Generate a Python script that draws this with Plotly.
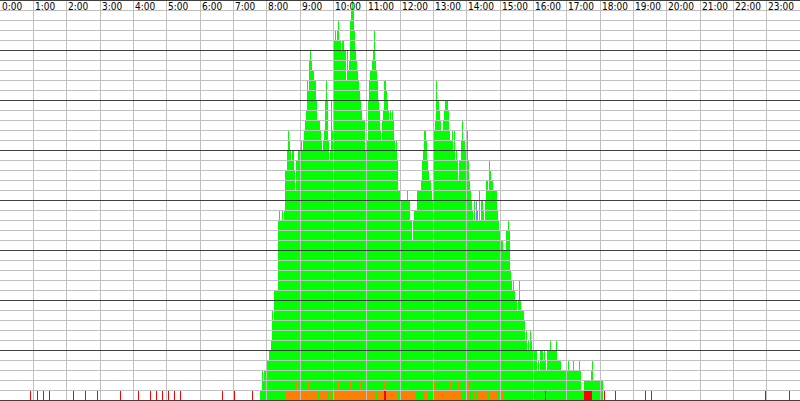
import plotly.graph_objects as go

# ---------------- data (one bucket = one 1.8-minute time slot) ----------------
BUCKET_MIN = 1.8
FIRST_BUCKET = 252

# total events per bucket (stack height), buckets 252..616
total = [
    1, 0, 0, 0, 0, 0, 0, 0,
    1, 1, 3, 2, 3, 3, 3, 4, 4, 5, 5, 6, 9, 8, 11, 11, 11, 11, 18, 19,
    18, 18, 19, 18, 19, 23, 23, 25, 27, 26, 25, 24, 25, 25, 23, 21, 24, 24, 25, 25,
    25, 26, 25, 26, 27, 28, 29, 32, 31, 34, 35, 34, 33, 33, 32, 32, 30, 28, 28, 28,
    27, 26, 25, 26, 27, 30, 32, 30, 26, 24, 25, 30, 27, 28, 36, 37, 36, 37, 38, 36,
    36, 35, 36, 36, 35, 35, 32, 35, 33, 34, 38, 39, 40, 39, 37, 35, 34, 33, 32, 31,
    30, 29, 28, 28, 28, 25, 25, 26, 30, 32, 33, 33, 34, 35, 37, 34, 33, 32, 30, 29,
    27, 26, 28, 29, 32, 32, 31, 30, 29, 28, 29, 28, 29, 28, 26, 25, 26, 24, 21, 21,
    20, 20, 20, 20, 20, 20, 20, 21, 20, 20, 18, 18, 16, 18, 19, 19, 19, 21, 21, 21,
    21, 22, 24, 25, 27, 27, 26, 24, 23, 22, 22, 21, 20, 27, 27, 28, 32, 30, 30, 29,
    28, 27, 27, 28, 29, 30, 30, 30, 29, 27, 26, 26, 27, 25, 27, 24, 25, 24, 22, 24,
    24, 26, 28, 26, 26, 25, 24, 27, 24, 22, 21, 20, 19, 18, 20, 18, 20, 19, 18, 21,
    18, 20, 20, 19, 18, 20, 22, 22, 21, 24, 23, 22, 22, 21, 21, 21, 21, 19, 18, 17,
    16, 16, 16, 15, 15, 15, 17, 17, 18, 17, 13, 12, 11, 12, 11, 10, 10, 9, 10, 12,
    10, 9, 9, 9, 8, 6, 7, 5, 6, 5, 7, 6, 5, 6, 5, 5, 5, 3, 4, 3,
    5, 5, 5, 4, 5, 4, 3, 5, 5, 5, 6, 5, 5, 5, 5, 5, 6, 4, 4, 4,
    4, 3, 3, 3, 3, 3, 3, 3, 4, 3, 3, 3, 3, 4, 3, 3, 3, 3, 3, 4,
    3, 1, 1, 1, 2, 2, 2, 2, 2, 2, 2, 3, 4, 2, 2, 2, 2, 2, 2, 2,
    2, 2, 2, 0, 1, 0, 0, 0, 0, 0, 0, 0, 0, 0, 0, 1, 0,
]

# warnings per bucket, buckets 252..616
warn = [
    0, 0, 0, 0, 0, 0, 0, 0,
    0, 0, 0, 0, 0, 0, 0, 0, 0, 0, 0, 0, 0, 0, 0, 0, 0, 0, 0, 0,
    0, 0, 0, 0, 0, 1, 1, 1, 1, 1, 1, 1, 1, 2, 1, 1, 2, 1, 1, 1,
    1, 2, 1, 2, 1, 1, 1, 1, 2, 1, 1, 2, 1, 1, 1, 1, 1, 1, 0, 1,
    1, 1, 1, 1, 1, 1, 1, 0, 0, 1, 1, 1, 0, 1, 1, 2, 1, 2, 2, 1,
    1, 1, 1, 1, 1, 1, 1, 0, 1, 2, 2, 2, 1, 1, 1, 1, 1, 0, 1, 1,
    2, 1, 1, 1, 1, 0, 0, 1, 1, 1, 1, 1, 1, 1, 1, 0, 0, 1, 1, 1,
    1, 1, 1, 1, 1, 1, 1, 1, 1, 1, 1, 1, 1, 1, 1, 1, 1, 1, 0, 0,
    1, 1, 1, 0, 1, 1, 1, 1, 1, 1, 1, 1, 1, 1, 1, 1, 0, 0, 0, 0,
    0, 0, 0, 1, 1, 1, 1, 0, 0, 0, 0, 0, 0, 0, 2, 2, 1, 1, 1, 1,
    1, 1, 1, 1, 1, 1, 1, 1, 1, 1, 2, 2, 1, 1, 1, 1, 1, 1, 2, 2,
    1, 1, 0, 0, 0, 0, 0, 0, 2, 1, 0, 0, 0, 0, 1, 1, 0, 0, 1, 1,
    1, 0, 1, 1, 1, 0, 1, 1, 0, 0, 1, 1, 1, 1, 1, 1, 1, 0, 0, 0,
    0, 1, 1, 1, 0, 0, 0, 0, 0, 0, 0, 0, 0, 0, 0, 0, 0, 0, 0, 0,
] + [0] * 97

# buckets holding one error each
err_buckets = [30, 37, 43, 49, 73, 85, 97, 120, 138, 150, 156, 162, 168, 174, 180,
               222, 234, 252, 384, 385, 545, 584, 585, 586, 587, 588, 589, 590, 591,
               604, 615, 645, 651, 765, 789]

# informational events (drawn on top of the stack)
info_buckets = [476, 477, 493]
info_counts = [2, 1, 1]

hour_labels = ["0:00", "1:00", "2:00", "3:00", "4:00", "5:00", "6:00", "7:00",
               "8:00", "9:00", "10:00", "11:00", "12:00", "13:00", "14:00", "15:00",
               "16:00", "17:00", "18:00", "19:00", "20:00", "21:00", "22:00", "23:00"]

# ---------------- figure ----------------
GREEN, ORANGE, RED, BLUE = "#00ff00", "#ff8000", "#ff0000", "#8080ff"
LIGHT, DARK = "#c0c0c0", "#404040"

buckets = [FIRST_BUCKET + i for i in range(len(total))]
xs = [(b + 0.5) * BUCKET_MIN for b in buckets]
err_set = set(err_buckets)

fig = go.Figure()
fig.add_trace(go.Bar(x=xs, y=total, width=BUCKET_MIN, marker=dict(color=GREEN, line=dict(width=0)),
                     hoverinfo="skip"))
fig.add_trace(go.Bar(x=xs, y=warn, base=[1 if b in err_set else 0 for b in buckets],
                     width=BUCKET_MIN, marker=dict(color=ORANGE, line=dict(width=0)), hoverinfo="skip"))
fig.add_trace(go.Bar(x=[(b + 0.5) * BUCKET_MIN for b in err_buckets], y=[1] * len(err_buckets),
                     width=BUCKET_MIN, marker=dict(color=RED, line=dict(width=0)), hoverinfo="skip"))
tot_map = dict(zip(buckets, total))
fig.add_trace(go.Bar(x=[(b + 0.5) * BUCKET_MIN for b in info_buckets], y=info_counts,
                     base=[tot_map[b] - c for b, c in zip(info_buckets, info_counts)],
                     width=BUCKET_MIN, marker=dict(color=BLUE, line=dict(width=0)), hoverinfo="skip"))

W, H = 800, 401
px_min = 1440 / W
shapes = []
for h in range(1, 24):
    p = int(W * h / 24)
    xm = (p + 0.5) * px_min
    shapes.append(dict(type="line", xref="x", yref="paper", x0=xm, x1=xm, y0=-0.01, y1=1.01,
                       line=dict(color=LIGHT, width=1), layer="above"))
for k in range(1, 41):
    col = DARK if k % 5 == 0 else LIGHT
    shapes.append(dict(type="line", xref="paper", yref="y", x0=0, x1=1, y0=k - 0.05, y1=k - 0.05,
                       line=dict(color=col, width=1), layer="above"))
shapes.append(dict(type="line", xref="paper", yref="paper", x0=0, x1=1, y0=-0.5 / 400, y1=-0.5 / 400,
                   line=dict(color=DARK, width=1), layer="above"))

annotations = []
for h, lab in enumerate(hour_labels):
    p = int(W * h / 24)
    annotations.append(dict(x=(p + 1) * px_min, y=1, xref="x", yref="paper", text=lab,
                            xanchor="left", yanchor="top", showarrow=False, borderpad=0,
                            font=dict(family="Liberation Sans Narrow, DejaVu Sans Condensed, Liberation Sans",
                                      size=10, color="black")))

fig.update_layout(
    width=W, height=H, margin=dict(l=0, r=0, t=0, b=1, pad=0),
    barmode="overlay", bargap=0, showlegend=False,
    plot_bgcolor="white", paper_bgcolor="white",
    xaxis=dict(range=[0, 1440], showgrid=False, zeroline=False, showticklabels=False,
               showline=False, ticks="", fixedrange=True),
    yaxis=dict(range=[0, 40], showgrid=False, zeroline=False, showticklabels=False,
               showline=False, ticks="", fixedrange=True),
    shapes=shapes, annotations=annotations,
)
fig.write_html("out.html", config={"displayModeBar": False},
               post_script="document.body.style.margin='0px';document.body.style.overflow='hidden';")
